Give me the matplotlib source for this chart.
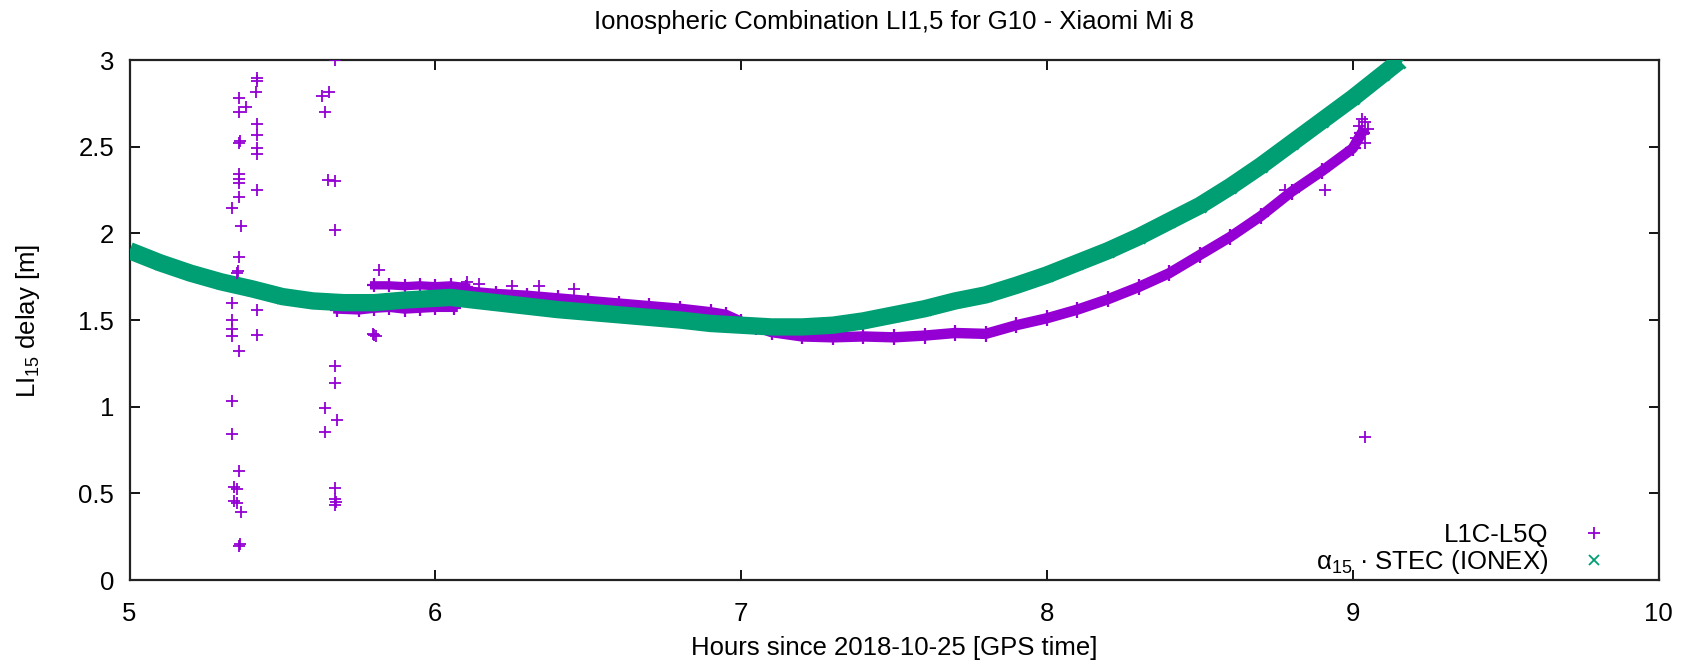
"""Ionospheric combination LI1,5 for G10 (Xiaomi Mi 8) vs IONEX-derived STEC."""

import matplotlib

matplotlib.use("Agg")
import matplotlib.pyplot as plt
from matplotlib.lines import Line2D

_PURPLE = "#9400d3"
_GREEN = "#009e73"

# alpha_15 * STEC (IONEX)
stec_hours = [5.0, 5.1, 5.2, 5.3, 5.4, 5.5, 5.6, 5.7, 5.8, 5.9, 6.0, 6.05, 6.1, 6.2,
              6.3, 6.4, 6.5, 6.6, 6.7, 6.8, 6.9, 7.0, 7.1, 7.2, 7.3, 7.4, 7.5, 7.6,
              7.7, 7.8, 7.9, 8.0, 8.1, 8.2, 8.3, 8.4, 8.5, 8.6, 8.7, 8.8, 8.9, 9.0,
              9.1, 9.15]
stec_delay = [1.90, 1.83, 1.77, 1.72, 1.68, 1.635, 1.61, 1.60, 1.60, 1.615, 1.625, 1.63,
              1.62, 1.60, 1.58, 1.56, 1.545, 1.53, 1.515, 1.50, 1.48, 1.47, 1.46, 1.46,
              1.47, 1.495, 1.53, 1.565, 1.61, 1.645, 1.70, 1.76, 1.83, 1.90, 1.98, 2.07,
              2.16, 2.27, 2.39, 2.52, 2.65, 2.78, 2.92, 2.99]

# L1C-L5Q main track
lic_hours = [6.10, 6.2, 6.3, 6.4, 6.5, 6.6, 6.7, 6.8, 6.9, 6.95, 7.0, 7.05, 7.1, 7.2,
             7.3, 7.4, 7.5, 7.6, 7.7, 7.8, 7.9, 8.0, 8.1, 8.2, 8.3, 8.4, 8.5, 8.6,
             8.7, 8.8, 8.9, 9.0, 9.03]
lic_delay = [1.665, 1.65, 1.64, 1.625, 1.61, 1.595, 1.58, 1.565, 1.545, 1.53, 1.49, 1.46,
             1.43, 1.405, 1.40, 1.405, 1.40, 1.41, 1.425, 1.42, 1.47, 1.51, 1.56, 1.62,
             1.69, 1.77, 1.875, 1.98, 2.10, 2.24, 2.36, 2.49, 2.58]

# short parallel tracks right after the gap
lic_upper_hours = [5.80, 5.85, 5.90, 5.95, 6.00, 6.05, 6.10]
lic_upper_delay = [1.70, 1.70, 1.695, 1.70, 1.695, 1.70, 1.69]
lic_lower_hours = [5.68, 5.75, 5.80, 5.85, 5.90, 5.95, 6.00, 6.06]
lic_lower_delay = [1.56, 1.555, 1.565, 1.57, 1.56, 1.565, 1.57, 1.57]

# isolated L1C-L5Q points
out_hours = [5.418, 5.418, 5.413, 5.358, 5.380, 5.358, 5.418, 5.418, 5.418, 5.418,
             5.358, 5.362, 5.358, 5.358, 5.358, 5.358, 5.418, 5.336, 5.364, 5.358,
             5.350, 5.354, 5.336, 5.418, 5.336, 5.336, 5.336, 5.418, 5.358, 5.336,
             5.336, 5.358, 5.342, 5.352, 5.342, 5.352, 5.364, 5.358, 5.362,
             5.673, 5.629, 5.653, 5.640, 5.650, 5.673, 5.673, 5.673, 5.673, 5.640,
             5.678, 5.640, 5.673, 5.673, 5.673, 5.676,
             5.800, 5.806, 5.796, 5.815,
             6.104, 6.142, 6.251, 6.339, 6.453,
             8.78, 8.91, 9.01, 9.02, 9.03, 9.04, 9.05, 9.04, 9.04]
out_delay = [2.897, 2.879, 2.813, 2.783, 2.726, 2.699, 2.63, 2.567, 2.494, 2.46,
             2.52, 2.53, 2.34, 2.315, 2.293, 2.21, 2.25, 2.145, 2.04, 1.866,
             1.77, 1.785, 1.597, 1.558, 1.50, 1.45, 1.41, 1.415, 1.32, 1.034,
             0.842, 0.627, 0.536, 0.525, 0.456, 0.445, 0.392, 0.194, 0.205,
             3.0, 2.795, 2.813, 2.70, 2.31, 2.30, 2.02, 1.232, 1.138, 0.992,
             0.924, 0.851, 0.529, 0.468, 0.433, 0.45,
             1.415, 1.405, 1.42, 1.79,
             1.72, 1.71, 1.695, 1.695, 1.68,
             2.25, 2.25, 2.55, 2.62, 2.66, 2.64, 2.60, 2.52, 0.825]

x_ticks = [5, 6, 7, 8, 9, 10]
y_ticks = [0, 0.5, 1, 1.5, 2, 2.5, 3]

W, H = 1692, 663
plt.rcParams["font.family"] = ["Liberation Sans", "DejaVu Sans"]
plt.rcParams["mathtext.fontset"] = "custom"
plt.rcParams["mathtext.rm"] = "Liberation Sans"
plt.rcParams["mathtext.it"] = "Liberation Sans"
FS = 18.5

fig = plt.figure(figsize=(W / 100, H / 100), dpi=100)
ax = fig.add_axes([129.5 / W, 1 - 580 / H, (1658.5 - 129.5) / W, 520 / H])

# dense bands: thick line through the read-off points plus the markers themselves
ax.plot(stec_hours, stec_delay, color=_GREEN, lw=12.5, solid_capstyle="butt", zorder=3)
ax.plot(stec_hours, stec_delay, ls="none", marker="x", ms=9, mew=2, color=_GREEN, zorder=3)
ax.plot(lic_hours, lic_delay, color=_PURPLE, lw=7.5, zorder=2)
ax.plot(lic_hours, lic_delay, ls="none", marker="+", ms=11, mew=1.6, color=_PURPLE, zorder=2)
for hh, vv in ((lic_upper_hours, lic_upper_delay), (lic_lower_hours, lic_lower_delay)):
    ax.plot(hh, vv, color=_PURPLE, lw=6, zorder=2)
    ax.plot(hh, vv, ls="none", marker="+", ms=10, mew=1.6, color=_PURPLE, zorder=2)
ax.plot(out_hours, out_delay, ls="none", marker="+", ms=8, mew=1.3, color=_PURPLE, zorder=4)

ax.set_xlim(5, 10)
ax.set_ylim(0, 3)
ax.set_xticks(x_ticks)
ax.set_xticklabels([str(t) for t in x_ticks])
ax.set_yticks(y_ticks)
ax.set_yticklabels([f"{t:g}" for t in y_ticks])
ax.tick_params(direction="in", length=7, width=1.3, top=True, right=True,
               labelsize=FS, colors="black")
ax.tick_params(axis="x", pad=16)
ax.tick_params(axis="y", pad=11)
for sp in ax.spines.values():
    sp.set_linewidth(1.6)
    sp.set_color("#222222")

fig.text(894 / W, 1 - 22 / H, "Ionospheric Combination LI1,5 for G10 - Xiaomi Mi 8",
         ha="center", va="center", fontsize=FS)
fig.text(894 / W, 1 - 648 / H, "Hours since 2018-10-25 [GPS time]",
         ha="center", va="center", fontsize=FS)
fig.text(28 / W, 1 - 321 / H, r"LI$_{15}$ delay [m]", rotation=90,
         ha="center", va="center", fontsize=FS)

handles = [
    Line2D([], [], ls="none", marker="+", ms=8, mew=1.3, color=_PURPLE),
    Line2D([], [], ls="none", marker="x", ms=7, mew=1.3, color=_GREEN),
]
labels = ["L1C-L5Q", r"$\mathrm{\alpha}_{15}$ · STEC (IONEX)"]
ax.legend(handles, labels, loc="lower right", frameon=False, markerfirst=False,
          fontsize=FS, handlelength=2.0, handletextpad=0.8, labelspacing=0.05,
          borderpad=0, borderaxespad=0,
          bbox_to_anchor=(1620 / W, 1 - 576 / H), bbox_transform=fig.transFigure)

fig.savefig("out.png", dpi=100)
